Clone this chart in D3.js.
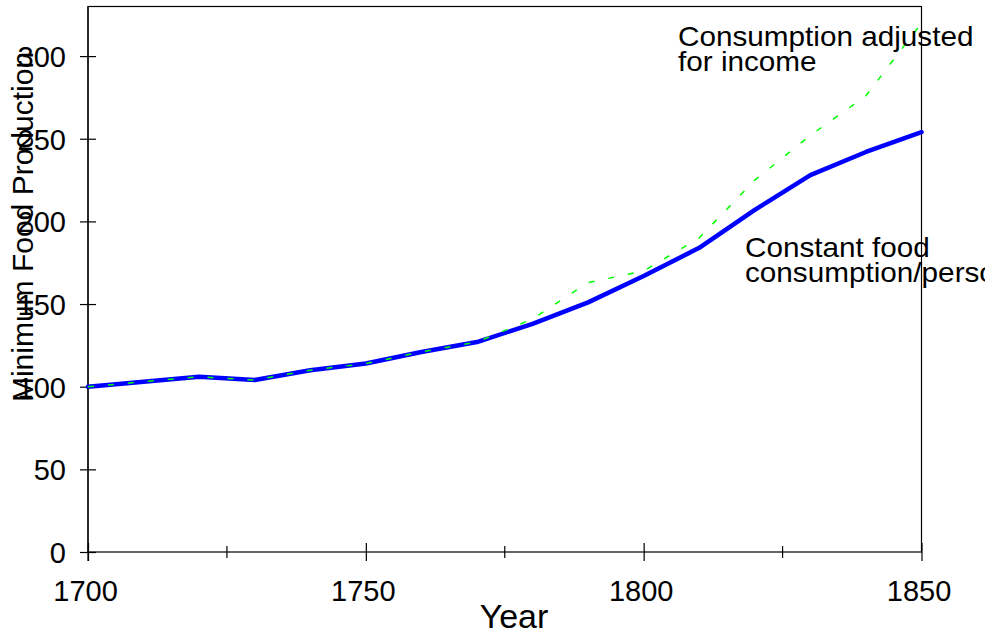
<!DOCTYPE html>
<html>
<head>
<meta charset="utf-8">
<script src="https://cdn.jsdelivr.net/npm/d3@7"></script>
<style>
  body { margin: 0; background: #fff; overflow: hidden; }
  svg { display: block; font-family: "Liberation Sans", Arial, sans-serif; }
</style>
</head>
<body>
<div id="chart"></div>
<script>
const years = [1700, 1710, 1720, 1730, 1740, 1750, 1760, 1770, 1780, 1790, 1800, 1810, 1820, 1830, 1840, 1850];
const constantFood = [100, 103, 106, 104, 110, 114, 121, 127, 138, 151, 167, 184, 207, 228, 242, 254];
const adjustedIncome = [100, 103, 106, 104, 110, 114, 121, 127, 141, 163, 170, 190, 225, 252, 276, 320];
const xMajorTicks = [1700, 1750, 1800, 1850];
const xMinorTicks = [1725, 1775, 1825];
const yTicks = [0, 50, 100, 150, 200, 250, 300];

const width = 985, height = 634;
const margin = {top: 6.5, right: 63.5, bottom: 82, left: 88};

const x = d3.scaleLinear()
    .domain([1700, 1850])
    .range([margin.left, width - margin.right]);

const y = d3.scaleLinear()
    .domain([0, 330])
    .range([height - margin.bottom, margin.top]);

const svg = d3.select('#chart')
    .append('svg')
    .attr('width', width)
    .attr('height', height);

// frame
svg.append('rect')
    .attr('x', x(1700))
    .attr('y', y(330))
    .attr('width', x(1850) - x(1700))
    .attr('height', y(0) - y(330))
    .attr('fill', 'none')
    .attr('stroke', '#000')
    .attr('stroke-width', 1.2);

// x axis
const xAxis = svg.append('g')
    .attr('transform', 'translate(0,' + y(0) + ')')
    .call(d3.axisBottom(x).tickValues(xMajorTicks).tickFormat(d3.format('d')).tickSizeOuter(0));
xAxis.select('.domain').remove();
xAxis.selectAll('.tick line').attr('y1', -9).attr('y2', 9).attr('stroke-width', 1.2);
xAxis.selectAll('.tick text')
    .attr('y', 49).attr('dy', 0).attr('dx', -3)
    .attr('font-size', 29).attr('font-family', '"Liberation Sans", Arial, sans-serif')
    .attr('fill', '#000');

xAxis.selectAll('.minor')
    .data(xMinorTicks)
    .enter().append('line')
    .attr('x1', d => x(d)).attr('x2', d => x(d))
    .attr('y1', -6).attr('y2', 6)
    .attr('stroke', '#000').attr('stroke-width', 1.2);

// y axis
const yAxis = svg.append('g')
    .attr('transform', 'translate(' + x(1700) + ',0)')
    .call(d3.axisLeft(y).tickValues(yTicks).tickSizeOuter(0));
yAxis.select('.domain').remove();
yAxis.selectAll('.tick line').attr('x1', -8).attr('x2', 8).attr('stroke-width', 1.2);
yAxis.selectAll('.tick text')
    .attr('x', -22).attr('dy', '0.36em')
    .attr('font-size', 29).attr('font-family', '"Liberation Sans", Arial, sans-serif')
    .attr('fill', '#000');

// left axis runs a little past the bottom
svg.append('line')
    .attr('x1', x(1700)).attr('x2', x(1700))
    .attr('y1', y(330)).attr('y2', y(0) + 9)
    .attr('stroke', '#000').attr('stroke-width', 1.2);

// lines
const line = d3.line()
    .x((d, i) => x(years[i]))
    .y(d => y(d));

svg.append('path')
    .datum(constantFood)
    .attr('d', line)
    .attr('fill', 'none')
    .attr('stroke', '#0000ff')
    .attr('stroke-width', 4.5)
    .attr('stroke-linejoin', 'round')
    .attr('stroke-linecap', 'round');

svg.append('path')
    .datum(adjustedIncome)
    .attr('d', line)
    .attr('fill', 'none')
    .attr('stroke', '#00ff00')
    .attr('stroke-width', 1.5)
    .attr('stroke-dasharray', '6,14');

// axis titles
svg.append('text')
    .attr('x', 514)
    .attr('y', 628)
    .attr('text-anchor', 'middle')
    .attr('font-size', 34)
    .text('Year');

svg.append('text')
    .attr('transform', 'translate(33,227) rotate(-90)')
    .attr('text-anchor', 'middle')
    .attr('font-size', 30)
    .text('Minimum Food Production');

// annotations (slightly wide lettering, second one runs off the page as in the original)
const notes = [
    {x: 678, y: 46, lines: ['Consumption adjusted', 'for income']},
    {x: 745, y: 257, lines: ['Constant food', 'consumption/person']}
];
notes.forEach(n => {
    const t = svg.append('text')
        .attr('transform', 'translate(' + n.x + ',' + n.y + ') scale(1.1,1)')
        .attr('font-size', 27);
    n.lines.forEach((s, i) => {
        t.append('tspan')
            .attr('x', 0)
            .attr('dy', i === 0 ? 0 : 25)
            .text(s);
    });
});
</script>
</body>
</html>
